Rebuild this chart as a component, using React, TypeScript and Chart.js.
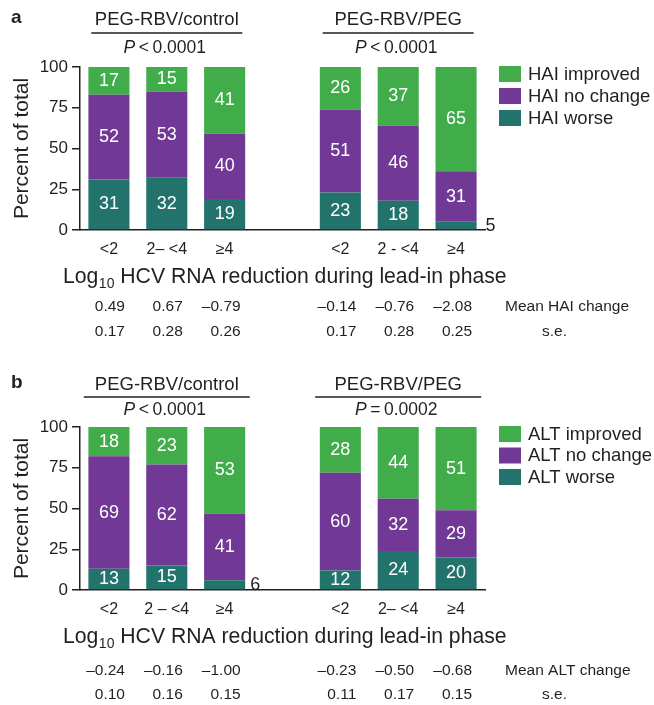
import React, { useEffect, useRef } from 'react';
import { Chart, registerables } from 'chart.js';

Chart.register(...registerables);

const FONT = '"Liberation Sans", Arial, Helvetica, sans-serif';
const TEXT = '#231f20';
const GREEN = '#41ad4a';
const PURPLE = '#713895';
const TEAL = '#23736d';

// ---- data ----
const categoriesA = ['<2', '2\u2013 <4', '\u22654', '', '<2', '2 - <4', '\u22654'];
const categoriesB = ['<2', '2 \u2013 <4', '\u22654', '', '<2', '2\u2013 <4', '\u22654'];
const groupNames = ['PEG-RBV/control', 'PEG-RBV/PEG'];
const groupCenters = [1, 5];
const pValuesA = [['<', '0.0001'], ['<', '0.0001']];
const pValuesB = [['<', '0.0001'], ['=', '0.0002']];

const haiWorse = [31, 32, 19, null, 23, 18, 5];
const haiNoChange = [52, 53, 40, null, 51, 46, 31];
const haiImproved = [17, 15, 41, null, 26, 37, 65];
const altWorse = [13, 15, 6, null, 12, 24, 20];
const altNoChange = [69, 62, 41, null, 60, 32, 29];
const altImproved = [18, 23, 53, null, 28, 44, 51];

const haiMean = ['0.49', '0.67', '\u20130.79', null, '\u20130.14', '\u20130.76', '\u20132.08'];
const haiSE = ['0.17', '0.28', '0.26', null, '0.17', '0.28', '0.25'];
const altMean = ['\u20130.24', '\u20130.16', '\u20131.00', null, '\u20130.23', '\u20130.50', '\u20130.68'];
const altSE = ['0.10', '0.16', '0.15', null, '0.11', '0.17', '0.15'];

const yTickStep = 25;

type PanelCfg = {
  letter: string;
  letterY: number;
  height: number;
  cats: string[];
  prefix: string;
  worse: (number | null)[];
  noChange: (number | null)[];
  improved: (number | null)[];
  mean: (string | null)[];
  se: (string | null)[];
  pvals: string[][];
  headerY: number;
  lineY: number;
  lineHalf: number;
  pY: number;
  legendY: number;
  legendStep: number;
  titleY: number;
  meanY: number;
  seY: number;
  smallOffset: number;
};

const panels: PanelCfg[] = [
  {
    letter: 'a', letterY: 23, height: 360, cats: categoriesA, prefix: 'HAI',
    worse: haiWorse, noChange: haiNoChange, improved: haiImproved,
    mean: haiMean, se: haiSE, pvals: pValuesA,
    headerY: 20, lineY: 33, lineHalf: 75.5, pY: 48.5,
    legendY: 66, legendStep: 22, titleY: 277, meanY: 307, seY: 332, smallOffset: 9,
  },
  {
    letter: 'b', letterY: 28, height: 345, cats: categoriesB, prefix: 'ALT',
    worse: altWorse, noChange: altNoChange, improved: altImproved,
    mean: altMean, se: altSE, pvals: pValuesB,
    headerY: 24.5, lineY: 37, lineHalf: 83, pY: 50.5,
    legendY: 66, legendStep: 21.5, titleY: 277, meanY: 311, seY: 335, smallOffset: 5,
  },
];

function drawP(ctx: CanvasRenderingContext2D, op: string, num: string, cx: number, cy: number) {
  ctx.save();
  ctx.textBaseline = 'middle';
  ctx.textAlign = 'left';
  const size = 17.5;
  ctx.font = `italic ${size}px ${FONT}`;
  const wP = ctx.measureText('P').width;
  ctx.font = `${size}px ${FONT}`;
  const wOp = ctx.measureText(op).width;
  const wNum = ctx.measureText(num).width;
  const gap = 3.5;
  const total = wP + gap + wOp + gap + wNum;
  let x = cx - total / 2;
  ctx.font = `italic ${size}px ${FONT}`;
  ctx.fillText('P', x, cy);
  x += wP + gap;
  ctx.font = `${size}px ${FONT}`;
  ctx.fillText(op, x, cy);
  x += wOp + gap;
  ctx.fillText(num, x, cy);
  ctx.restore();
}

function makeOverlay(cfg: PanelCfg) {
  return {
    id: 'overlay' + cfg.letter,
    afterDatasetsDraw(chart: any) {
      const ctx: CanvasRenderingContext2D = chart.ctx;
      const area = chart.chartArea;
      ctx.save();
      chart.data.datasets.forEach((ds: any, di: number) => {
        const meta = chart.getDatasetMeta(di);
        meta.data.forEach((bar: any, i: number) => {
          const v = ds.data[i];
          if (v == null) return;
          const p = bar.getProps(['x', 'y', 'base', 'width'], true);
          const top = Math.max(p.y, area.top);
          const cy = (top + p.base) / 2;
          ctx.textBaseline = 'middle';
          ctx.font = `18px ${FONT}`;
          if (v >= 10) {
            ctx.fillStyle = '#ffffff';
            ctx.textAlign = 'center';
            ctx.fillText(String(v), p.x, cy);
          } else {
            ctx.fillStyle = TEXT;
            ctx.textAlign = 'left';
            ctx.fillText(String(v), p.x + p.width / 2 + cfg.smallOffset, cy);
          }
        });
      });
      ctx.restore();
    },
    afterDraw(chart: any) {
      const ctx: CanvasRenderingContext2D = chart.ctx;
      const xs = chart.scales.x;
      ctx.save();
      ctx.fillStyle = TEXT;
      ctx.strokeStyle = TEXT;
      // panel letter
      ctx.font = `bold 19px ${FONT}`;
      ctx.textAlign = 'left';
      ctx.textBaseline = 'alphabetic';
      ctx.fillText(cfg.letter, 11, cfg.letterY);
      // group headers
      groupNames.forEach((name, gi) => {
        const cx = xs.getPixelForValue(groupCenters[gi]);
        ctx.font = `18.5px ${FONT}`;
        ctx.textAlign = 'center';
        ctx.textBaseline = 'middle';
        ctx.fillText(name, cx, cfg.headerY);
        ctx.beginPath();
        ctx.lineWidth = 1.5;
        ctx.moveTo(cx - cfg.lineHalf, cfg.lineY);
        ctx.lineTo(cx + cfg.lineHalf, cfg.lineY);
        ctx.stroke();
        drawP(ctx, cfg.pvals[gi][0], cfg.pvals[gi][1], cx - 2, cfg.pY);
      });
      // legend
      const legendItems = [...chart.data.datasets].reverse();
      legendItems.forEach((ds: any, li: number) => {
        const by = cfg.legendY + li * cfg.legendStep;
        ctx.fillStyle = ds.backgroundColor;
        ctx.fillRect(499, by, 22, 16);
        ctx.fillStyle = TEXT;
        ctx.font = `18.5px ${FONT}`;
        ctx.textAlign = 'left';
        ctx.textBaseline = 'middle';
        ctx.fillText(ds.label, 528, by + 8.5);
      });
      // x title with subscript
      ctx.fillStyle = TEXT;
      ctx.textAlign = 'left';
      ctx.textBaseline = 'middle';
      let tx = 63;
      ctx.font = `21.2px ${FONT}`;
      ctx.fillText('Log', tx, cfg.titleY);
      tx += ctx.measureText('Log').width;
      ctx.font = `14px ${FONT}`;
      ctx.fillText('10', tx + 0.5, cfg.titleY + 7);
      tx += ctx.measureText('10').width + 0.5;
      ctx.font = `21.2px ${FONT}`;
      ctx.fillText(' HCV RNA reduction during lead-in phase', tx, cfg.titleY);
      // mean / s.e. rows
      ctx.font = `15.5px ${FONT}`;
      ctx.textAlign = 'right';
      cfg.mean.forEach((m, i) => {
        if (m == null) return;
        const px = xs.getPixelForValue(i) + 16;
        ctx.fillText(m, px, cfg.meanY);
        const s = cfg.se[i];
        if (s != null) ctx.fillText(s, px, cfg.seY);
      });
      ctx.textAlign = 'left';
      ctx.fillText(`Mean ${cfg.prefix} change`, 505, cfg.meanY);
      ctx.fillText('s.e.', 542, cfg.seY);
      ctx.restore();
    },
  };
}

function Panel({ cfg, top }: { cfg: PanelCfg; top: number }) {
  const ref = useRef<HTMLCanvasElement | null>(null);
  useEffect(() => {
    if (!ref.current) return;
    const chart = new Chart(ref.current, {
      type: 'bar',
      data: {
        labels: cfg.cats,
        datasets: [
          { label: `${cfg.prefix} worse`, data: cfg.worse, backgroundColor: TEAL, borderWidth: 0, barPercentage: 0.71, categoryPercentage: 1 },
          { label: `${cfg.prefix} no change`, data: cfg.noChange, backgroundColor: PURPLE, borderWidth: 0, barPercentage: 0.71, categoryPercentage: 1 },
          { label: `${cfg.prefix} improved`, data: cfg.improved, backgroundColor: GREEN, borderWidth: 0, barPercentage: 0.71, categoryPercentage: 1 },
        ] as any,
      },
      options: {
        responsive: false,
        animation: false,
        devicePixelRatio: 1,
        layout: { padding: { left: 0, right: 169, top: 67, bottom: cfg.height - 230 - 30 } },
        plugins: {
          legend: { display: false },
          tooltip: { enabled: false },
          title: { display: false },
        },
        scales: {
          x: {
            stacked: true,
            offset: true,
            grid: { display: false, drawTicks: false },
            border: { display: true, color: TEXT, width: 1.5 },
            ticks: { color: TEXT, font: { family: FONT, size: 16 }, padding: 10, autoSkip: false, maxRotation: 0 },
            afterFit: (s: any) => { s.height = 30; },
          },
          y: {
            stacked: true,
            min: 0,
            max: 100,
            ticks: { stepSize: yTickStep, color: TEXT, font: { family: FONT, size: 17 }, padding: 4 },
            grid: { drawOnChartArea: false, drawTicks: true, tickLength: 8, color: TEXT, lineWidth: 1.5 },
            border: { display: true, color: TEXT, width: 1.5 },
            title: { display: true, text: 'Percent of total', color: TEXT, font: { family: FONT, size: 21 }, padding: { top: 10, bottom: 0 } },
            afterFit: (s: any) => { s.width = 80; },
          },
        },
      } as any,
      plugins: [makeOverlay(cfg) as any],
    });
    return () => chart.destroy();
  }, [cfg]);
  return (
    <canvas
      ref={ref}
      width={654}
      height={cfg.height}
      style={{ position: 'absolute', left: 0, top, width: 654, height: cfg.height }}
    />
  );
}

export default function App() {
  return (
    <div style={{ position: 'absolute', left: 0, top: 0, width: 654, height: 705, background: '#ffffff' }}>
      <Panel cfg={panels[0]} top={0} />
      <Panel cfg={panels[1]} top={360} />
    </div>
  );
}
